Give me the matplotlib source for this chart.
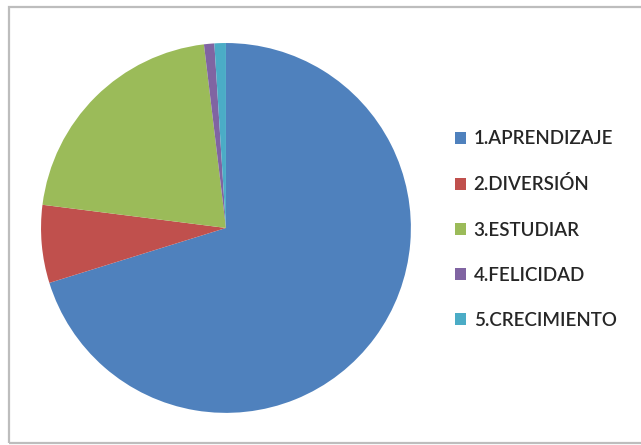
import matplotlib.pyplot as plt
from matplotlib.patches import Rectangle, Patch

# Distribución de respuestas
categorias = ["1.APRENDIZAJE", "2.DIVERSIÓN", "3.ESTUDIAR", "4.FELICIDAD", "5.CRECIMIENTO"]
porcentajes = [70.2, 6.8, 21.1, 0.9, 1.0]
colores = ["#4F81BD", "#C0504D", "#9BBB59", "#8064A2", "#4BACC6"]

fig = plt.figure(figsize=(6.41, 4.45), dpi=100)

# marco gris del gráfico
fig.patches.append(Rectangle((9 / 641, 2 / 445), 1.0, 1 - 9 / 445,
                             transform=fig.transFigure, fill=False,
                             edgecolor="#BDBDBD", linewidth=1.6))

ax = fig.add_axes([0.064, 0.072, 0.577, 0.8315])
ax.pie(porcentajes, colors=colores, startangle=90, counterclock=False,
       wedgeprops=dict(linewidth=0))
ax.set_xlim(-1, 1)
ax.set_ylim(-1, 1)
ax.set_aspect("equal")

handles = [Patch(facecolor=c, edgecolor="none") for c in colores]
fig.legend(handles, categorias, loc="upper left", bbox_to_anchor=(0.684, 0.745),
           frameon=False, handlelength=0.58, handleheight=0.58, handletextpad=0.4,
           labelspacing=1.5, prop=dict(family="Lato", size=13.5, weight="semibold"),
           labelcolor="#262626")

fig.savefig("out.png", dpi=100)
